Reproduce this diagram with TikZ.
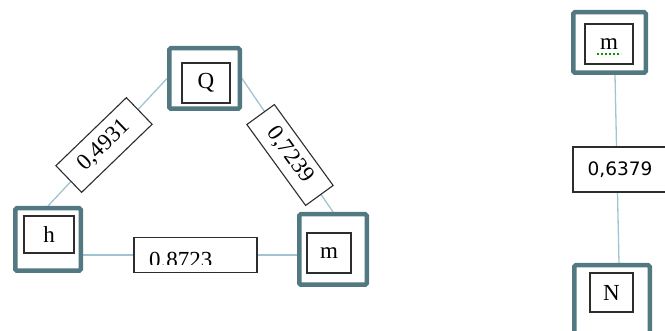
\documentclass[tikz,border=0pt]{standalone}
\usepackage{fontspec}
\setmainfont{Liberation Serif}
\newfontfamily\labsans{DejaVu Sans}
\usetikzlibrary{backgrounds}
\definecolor{framec}{RGB}{82,120,130}
\definecolor{linkc}{RGB}{160,196,208}
\definecolor{innerc}{RGB}{45,45,45}
\begin{document}
\begin{tikzpicture}[x=1pt,y=-1pt,
  outerbox/.style={draw=framec, line width=4.5pt, rounded corners=1.5pt, fill=white, inner sep=0pt},
  innerbox/.style={draw=innerc, line width=1.1pt, fill=white, inner sep=0pt, font=\fontsize{23}{24}\selectfont},
  link/.style={draw=linkc, line width=1.3pt},
  weight/.style={draw=innerc, line width=1.1pt, fill=white, inner sep=0pt, font=\fontsize{23}{24}\selectfont}]
\useasboundingbox (0,0) rectangle (665,331);

% outer frames
\node[outerbox, minimum width=70.5pt, minimum height=60.5pt] (Qo) at (204.5,78.5) {};
\node[outerbox, minimum width=65.5pt, minimum height=62.5pt] (ho) at (48,239.5) {};
\node[outerbox, minimum width=67.5pt, minimum height=70.5pt] (mo) at (333,249.5) {};
\node[outerbox, minimum width=72.5pt, minimum height=60.5pt] (mro) at (609.5,42.5) {};
\node[outerbox, minimum width=75.5pt, minimum height=70.5pt] (No) at (612,300.5) {};

% inner boxes
\node[innerbox, minimum width=48pt, minimum height=40pt] (Qi) at (206,83) {Q};
\node[innerbox, minimum width=50pt, minimum height=37pt] (hi) at (49,234.5) {h};
\node[innerbox, minimum width=44pt, minimum height=40pt] (mi) at (329,253) {m};
\node[innerbox, minimum width=48pt, minimum height=40pt] (mri) at (609,44) {m};
\node[innerbox, minimum width=43pt, minimum height=39pt] (Ni) at (611.5,292.5) {N};
\draw[green!60!black, dash pattern=on 2pt off 2pt, line width=1.4pt] (597,54) -- (621,54);

% weight labels
\node[weight, rotate=44, minimum width=98pt, minimum height=37pt] (w1) at (104,145) {0,4931};
\node[weight, rotate=-54, minimum width=100pt, minimum height=34pt] (w2) at (290,155) {0,7239};
\node[weight, minimum width=123pt, minimum height=35pt] (w3) at (195.5,255) {};
\begin{scope}
  \clip (134,239) rectangle (257,265);
  \node[anchor=base west, inner sep=0pt, font=\fontsize{23}{24}\selectfont] (w3t) at (149,268) {0,8723};
\end{scope}
\node[weight, minimum width=94pt, minimum height=45pt, font=\labsans\fontsize{18.5}{20}\selectfont] (w4) at (620,169.5) {0,6379};

% connectors
\begin{pgfonlayer}{background}
  \draw[link] (Qo.west) -- (ho.north);
  \draw[link] (Qo.east) -- (mo.north);
  \draw[link] (ho.east |- w3) -- (mo.west |- w3);
  \draw[link] ([xshift=5.5pt]mro.south) -- ([xshift=7pt]No.north);
\end{pgfonlayer}
\end{tikzpicture}
\end{document}
